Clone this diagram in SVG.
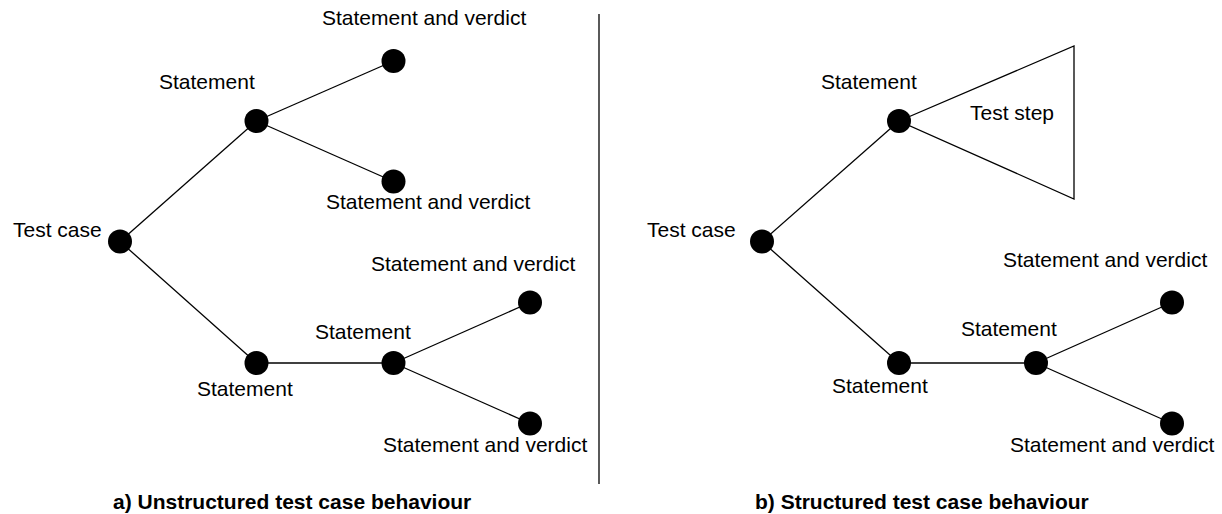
<svg xmlns="http://www.w3.org/2000/svg" width="1222" height="514" viewBox="0 0 1222 514">
  <style>
    .edge { stroke: #000; stroke-width: 1.3; fill: none; }
    .dot { fill: #000; }
    .lbl { font-family: "Liberation Sans", Arial, sans-serif; font-size: 21px; fill: #000; }
    .cap { font-family: "Liberation Sans", Arial, sans-serif; font-size: 21px; font-weight: bold; fill: #000; }
  </style>
  <rect width="1222" height="514" fill="#fff"/>

  <!-- panel divider -->
  <line x1="599" y1="14" x2="599" y2="484" stroke="#000" stroke-width="1.3"/>

  <!-- connectors -->
  <g id="connectors">
    <!-- a) unstructured tree -->
    <line class="edge" x1="120" y1="241.5" x2="256.5" y2="121"/>
    <line class="edge" x1="120" y1="241.5" x2="256.5" y2="363"/>
    <line class="edge" x1="256.5" y1="121" x2="393.5" y2="61"/>
    <line class="edge" x1="256.5" y1="121" x2="393.5" y2="181.5"/>
    <line class="edge" x1="256.5" y1="363" x2="393.5" y2="363"/>
    <line class="edge" x1="393.5" y1="363" x2="530" y2="302.5"/>
    <line class="edge" x1="393.5" y1="363" x2="530" y2="423.5"/>
    <!-- b) structured tree -->
    <line class="edge" x1="762" y1="241.5" x2="899" y2="121"/>
    <line class="edge" x1="762" y1="241.5" x2="899" y2="363"/>
    <line class="edge" x1="899" y1="363" x2="1036" y2="363"/>
    <line class="edge" x1="1036" y1="363" x2="1172" y2="302.5"/>
    <line class="edge" x1="1036" y1="363" x2="1172" y2="423.5"/>
  </g>

  <!-- a) Unstructured test case behaviour -->
  <g id="a-testcase"><circle class="dot" cx="120" cy="241.5" r="12"/><text class="lbl" x="13" y="237">Test case</text></g>
  <g id="a-stmt1"><circle class="dot" cx="256.5" cy="121" r="12"/><text class="lbl" x="159" y="89">Statement</text></g>
  <g id="a-verdict1"><circle class="dot" cx="393.5" cy="61" r="12"/><text class="lbl" x="322" y="25">Statement and verdict</text></g>
  <g id="a-verdict2"><circle class="dot" cx="393.5" cy="181.5" r="12"/><text class="lbl" x="326" y="209">Statement and verdict</text></g>
  <g id="a-stmt2"><circle class="dot" cx="256.5" cy="363" r="12"/><text class="lbl" x="197" y="396">Statement</text></g>
  <g id="a-stmt3"><circle class="dot" cx="393.5" cy="363" r="12"/><text class="lbl" x="315" y="339">Statement</text></g>
  <g id="a-verdict3"><circle class="dot" cx="530" cy="302.5" r="12"/><text class="lbl" x="371" y="271">Statement and verdict</text></g>
  <g id="a-verdict4"><circle class="dot" cx="530" cy="423.5" r="12"/><text class="lbl" x="383" y="452">Statement and verdict</text></g>
  <text class="cap" x="113" y="509">a) Unstructured test case behaviour</text>

  <!-- b) Structured test case behaviour -->
  <g id="b-teststep">
    <polygon points="899,121 1074,46 1074,199" class="edge"/>
    <text class="lbl" x="970" y="120">Test step</text>
  </g>
  <g id="b-testcase"><circle class="dot" cx="762" cy="241.5" r="12"/><text class="lbl" x="647" y="237">Test case</text></g>
  <g id="b-stmt1"><circle class="dot" cx="899" cy="121" r="12"/><text class="lbl" x="821" y="89">Statement</text></g>
  <g id="b-stmt2"><circle class="dot" cx="899" cy="363" r="12"/><text class="lbl" x="832" y="393">Statement</text></g>
  <g id="b-stmt3"><circle class="dot" cx="1036" cy="363" r="12"/><text class="lbl" x="961" y="336">Statement</text></g>
  <g id="b-verdict1"><circle class="dot" cx="1172" cy="302.5" r="12"/><text class="lbl" x="1003" y="267">Statement and verdict</text></g>
  <g id="b-verdict2"><circle class="dot" cx="1172" cy="423.5" r="12"/><text class="lbl" x="1010" y="452">Statement and verdict</text></g>
  <text class="cap" x="755" y="509">b) Structured test case behaviour</text>
</svg>
